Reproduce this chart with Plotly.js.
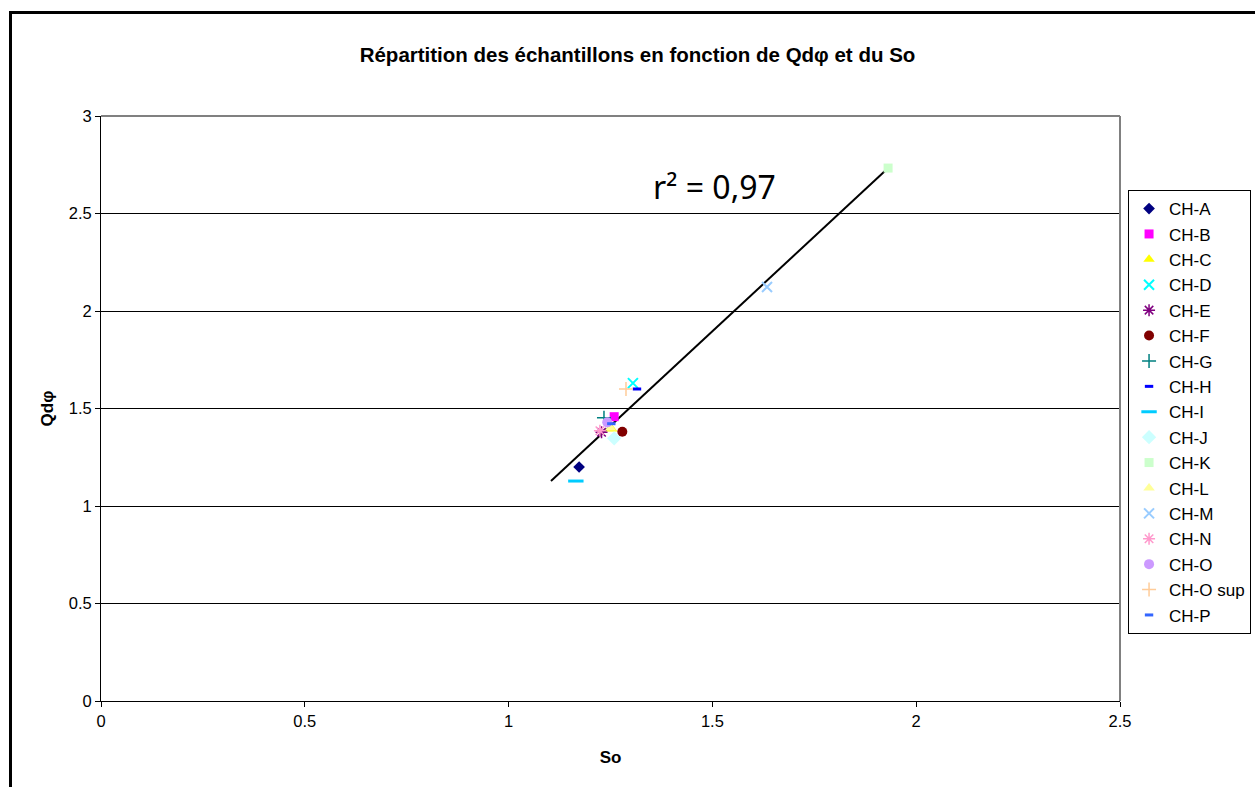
<!DOCTYPE html>
<html>
<head>
<meta charset="utf-8">
<script src="https://cdn.plot.ly/plotly-3.0.1.min.js"></script>
<style>
html,body{margin:0;padding:0;background:#fff;}
#frame{position:absolute;left:9px;top:11px;width:1300px;height:900px;border-left:3px solid #000;border-top:3px solid #000;pointer-events:none;z-index:10;}
#chart{position:absolute;left:0;top:0;width:1255px;height:787px;}
</style>
</head>
<body>
<div id="chart"></div>
<div id="frame"></div>
<script>
// ---- data ----
const seriesNames = ['CH-A','CH-B','CH-C','CH-D','CH-E','CH-F','CH-G','CH-H','CH-I','CH-J','CH-K','CH-L','CH-M','CH-N','CH-O','CH-O sup','CH-P'];
const soValues    = [1.173, 1.259, 1.253, 1.305, 1.228, 1.279, 1.234, 1.315, 1.165, 1.259, 1.931, 1.250, 1.634, 1.224, 1.242, 1.288, 1.252];
const qdphiValues = [1.200, 1.458, 1.395, 1.630, 1.378, 1.381, 1.453, 1.600, 1.128, 1.347, 2.733, 1.400, 2.123, 1.386, 1.429, 1.600, 1.422];
const trendSo     = [1.104, 1.926];
const trendQdphi  = [1.128, 2.723];
const r2Label     = 'r² = 0,97';
const xTicks      = [0, 0.5, 1, 1.5, 2, 2.5];
const yTicks      = [0, 0.5, 1, 1.5, 2, 2.5, 3];

// ---- styles ----
const styles = [
  {symbol:'diamond', color:'#000080', size:9},
  {symbol:'square', color:'#FF00FF', size:9},
  {symbol:'triangle-up', color:'#FFFF00', size:10},
  {symbol:'x-thin-open', color:'#00FFFF', size:10, lw:2},
  {symbol:'asterisk-open', color:'#800080', size:10, lw:1.5},
  {symbol:'circle', color:'#800000', size:10},
  {symbol:'cross-thin-open', color:'#008080', size:10, lw:1.5},
  {symbol:'line-ew-open', color:'#0000FF', size:6, lw:3},
  {symbol:'line-ew-open', color:'#00CCFF', size:11, lw:3},
  {symbol:'diamond', color:'#CCFFFF', size:11},
  {symbol:'square', color:'#CCFFCC', size:9},
  {symbol:'triangle-up', color:'#FFFF99', size:10},
  {symbol:'x-thin-open', color:'#99CCFF', size:10, lw:2},
  {symbol:'asterisk-open', color:'#FF99CC', size:10, lw:1.5},
  {symbol:'circle', color:'#CC99FF', size:10},
  {symbol:'cross-thin-open', color:'#FFCC99', size:10, lw:1.5},
  {symbol:'line-ew-open', color:'#3366FF', size:6, lw:3}
];

const traces = [{
  x: trendSo, y: trendQdphi, mode: 'lines', type: 'scatter',
  line: {color: '#000', width: 2}, showlegend: false, hoverinfo: 'skip'
}];
seriesNames.forEach((n, i) => {
  const s = styles[i];
  const open = s.symbol.indexOf('open') >= 0;
  traces.push({
    x: [soValues[i]], y: [qdphiValues[i]], name: n, type: 'scatter', mode: 'markers',
    legendgroup: 'g' + i,
    marker: {symbol: s.symbol, size: s.size, color: s.color,
      line: open ? {color: s.color, width: s.lw} : {width: 0}}
  });
});

const fam = 'Liberation Sans, Arial, sans-serif';
const tickFont = {family: fam, size: 16.5, color: '#000'};
const titleFont = {family: fam, size: 17, color: '#000'};
const layout = {
  width: 1255, height: 787,
  margin: {l: 101, r: 135, t: 116, b: 86, autoexpand: false},
  paper_bgcolor: '#fff', plot_bgcolor: '#fff',
  font: tickFont,
  title: {text: '<b>Répartition des échantillons en fonction de Qdφ et du So</b>',
    font: {family: fam, size: 20.5, color: '#000'},
    x: 0.5265, xref: 'paper', xanchor: 'center', y: 0.93, yref: 'container', yanchor: 'middle'},
  xaxis: {range: [0, 2.5], tickvals: xTicks, ticktext: xTicks.map(String), showgrid: false, zeroline: false,
    showline: true, linecolor: '#000', linewidth: 1, ticks: 'outside', ticklen: 5, tickcolor: '#000',
    tickfont: tickFont, fixedrange: true,
    title: {text: '<b>So</b>', font: titleFont, standoff: 22}},
  yaxis: {range: [0, 3], tickvals: yTicks, ticktext: yTicks.map(String), showgrid: true, gridcolor: '#000', gridwidth: 1,
    zeroline: false, showline: true, linecolor: '#000', linewidth: 1, ticks: 'outside', ticklen: 5, tickcolor: '#000',
    tickfont: tickFont, fixedrange: true,
    title: {text: '<b>Qdφ</b>', font: titleFont, standoff: 10}},
  shapes: [
    {type: 'line', xref: 'paper', yref: 'paper', x0: 0, x1: 1, y0: 1, y1: 1, line: {color: '#808080', width: 2}},
    {type: 'line', xref: 'paper', yref: 'paper', x0: 1, x1: 1, y0: 0, y1: 1, line: {color: '#808080', width: 2}}
  ],
  annotations: [{
    text: r2Label, x: 1.504, y: 2.64, xref: 'x', yref: 'y', showarrow: false,
    font: {family: 'Noto Sans, sans-serif', size: 32, color: '#000'}, xanchor: 'center', yanchor: 'middle'
  }],
  legend: {x: 1.0079, y: 0.8735, xanchor: 'left', yanchor: 'top', xref: 'paper', yref: 'paper',
    bordercolor: '#000', borderwidth: 1, bgcolor: '#fff', font: {family: fam, size: 17, color: '#000'},
    traceorder: 'grouped', tracegroupgap: 0.3, itemwidth: 30},
  showlegend: true
};

Plotly.newPlot('chart', traces, layout, {displayModeBar: false, staticPlot: true});
</script>
</body>
</html>
